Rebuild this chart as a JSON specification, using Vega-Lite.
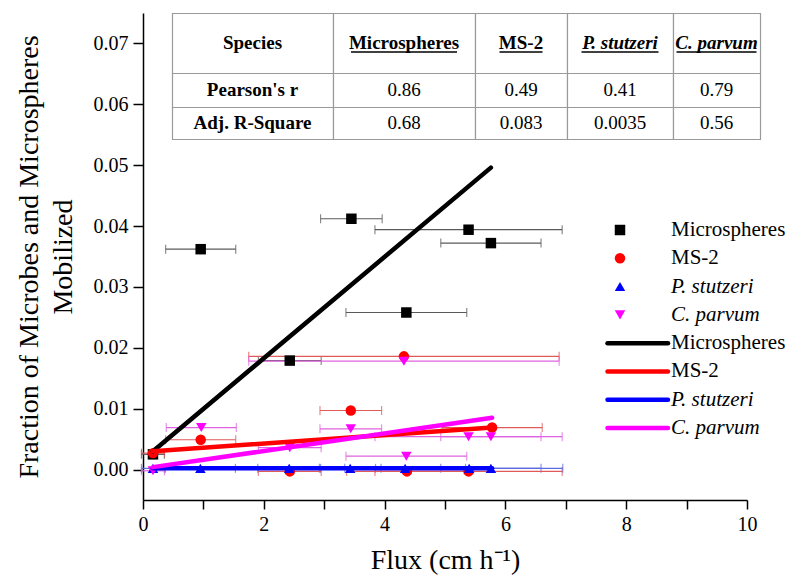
{
  "$schema": "https://vega.github.io/schema/vega-lite/v6.json",
  "width": 604,
  "height": 487,
  "autosize": {"type": "none"},
  "padding": {"left": 143, "top": 13, "right": 54, "bottom": 84},
  "background": "white",
  "config": {
    "font": "Liberation Serif",
    "text": {"font": "Liberation Serif"},
    "view": {"stroke": null},
    "axis": {
      "domainColor": "black",
      "domainWidth": 1.5,
      "tickColor": "black",
      "tickWidth": 1.5,
      "labelColor": "black",
      "titleColor": "black",
      "labelFont": "Liberation Serif",
      "titleFont": "Liberation Serif",
      "titleFontWeight": "normal",
      "grid": false
    }
  },
  "datasets": {
    "obs": [
      {"species": "Microspheres", "flux": 0.165, "frac": 0.0025, "err": 0.19},
      {"species": "Microspheres", "flux": 0.955, "frac": 0.0362, "err": 0.58},
      {"species": "Microspheres", "flux": 2.43, "frac": 0.0179, "err": 0.52},
      {"species": "Microspheres", "flux": 3.45, "frac": 0.0412, "err": 0.51},
      {"species": "Microspheres", "flux": 4.36, "frac": 0.0258, "err": 1.0},
      {"species": "Microspheres", "flux": 5.39, "frac": 0.0394, "err": 1.55},
      {"species": "Microspheres", "flux": 5.76, "frac": 0.0372, "err": 0.83},
      {"species": "MS-2", "flux": 0.165, "frac": 0.0027, "err": 0.19},
      {"species": "MS-2", "flux": 0.955, "frac": 0.0049, "err": 0.58},
      {"species": "MS-2", "flux": 2.43, "frac": -0.0003, "err": 0.52},
      {"species": "MS-2", "flux": 3.44, "frac": 0.0097, "err": 0.51},
      {"species": "MS-2", "flux": 4.32, "frac": 0.0186, "err": 2.57},
      {"species": "MS-2", "flux": 4.37, "frac": -0.0003, "err": 1.0},
      {"species": "MS-2", "flux": 5.39, "frac": -0.0003, "err": 1.55},
      {"species": "MS-2", "flux": 5.78, "frac": 0.0069, "err": 0.83},
      {"species": "P. stutzeri", "flux": 0.165, "frac": 0.0002, "err": 0.19},
      {"species": "P. stutzeri", "flux": 0.95, "frac": 0.0002, "err": 0.58},
      {"species": "P. stutzeri", "flux": 2.42, "frac": 0.0002, "err": 0.52},
      {"species": "P. stutzeri", "flux": 3.43, "frac": 0.0002, "err": 0.51},
      {"species": "P. stutzeri", "flux": 4.34, "frac": 0.0002, "err": 1.0},
      {"species": "P. stutzeri", "flux": 5.4, "frac": 0.0002, "err": 1.55},
      {"species": "P. stutzeri", "flux": 5.76, "frac": 0.0002, "err": 0.83},
      {"species": "C. parvum", "flux": 0.165, "frac": -0.0002, "err": 0.19},
      {"species": "C. parvum", "flux": 0.965, "frac": 0.0069, "err": 0.58},
      {"species": "C. parvum", "flux": 2.43, "frac": 0.0036, "err": 0.52},
      {"species": "C. parvum", "flux": 3.44, "frac": 0.0067, "err": 0.51},
      {"species": "C. parvum", "flux": 4.32, "frac": 0.0178, "err": 2.57},
      {"species": "C. parvum", "flux": 4.36, "frac": 0.0022, "err": 1.0},
      {"species": "C. parvum", "flux": 5.39, "frac": 0.0054, "err": 1.55},
      {"species": "C. parvum", "flux": 5.76, "frac": 0.0054, "err": 0.83}
    ],
    "fit": [
      {"species": "Microspheres", "flux": 0.165, "frac": 0.003},
      {"species": "Microspheres", "flux": 5.76, "frac": 0.0496},
      {"species": "MS-2", "flux": 0.165, "frac": 0.003},
      {"species": "MS-2", "flux": 5.78, "frac": 0.0069},
      {"species": "P. stutzeri", "flux": 0.165, "frac": 0.0002},
      {"species": "P. stutzeri", "flux": 5.78, "frac": 0.0002},
      {"species": "C. parvum", "flux": 0.165, "frac": 0.0004},
      {"species": "C. parvum", "flux": 5.78, "frac": 0.0085}
    ],
    "stats": [
      {"r": 1, "c": 1, "text": "Species"},
      {"r": 1, "c": 2, "text": "Microspheres"},
      {"r": 1, "c": 3, "text": "MS-2"},
      {"r": 1, "c": 4, "text": "P. stutzeri"},
      {"r": 1, "c": 5, "text": "C. parvum"},
      {"r": 2, "c": 1, "text": "Pearson's r"},
      {"r": 2, "c": 2, "text": "0.86"},
      {"r": 2, "c": 3, "text": "0.49"},
      {"r": 2, "c": 4, "text": "0.41"},
      {"r": 2, "c": 5, "text": "0.79"},
      {"r": 3, "c": 1, "text": "Adj. R-Square"},
      {"r": 3, "c": 2, "text": "0.68"},
      {"r": 3, "c": 3, "text": "0.083"},
      {"r": 3, "c": 4, "text": "0.0035"},
      {"r": 3, "c": 5, "text": "0.56"}
    ],
    "key": [
      {"i": 1, "species": "Microspheres", "kind": "point"},
      {"i": 2, "species": "MS-2", "kind": "point"},
      {"i": 3, "species": "P. stutzeri", "kind": "point"},
      {"i": 4, "species": "C. parvum", "kind": "point"},
      {"i": 5, "species": "Microspheres", "kind": "line"},
      {"i": 6, "species": "MS-2", "kind": "line"},
      {"i": 7, "species": "P. stutzeri", "kind": "line"},
      {"i": 8, "species": "C. parvum", "kind": "line"}
    ]
  },
  "layer": [
    {
      "layer": [
        {
          "data": {"name": "obs"},
          "mark": {"type": "errorbar", "ticks": {"size": 9, "thickness": 1.2}, "thickness": 1.2},
          "encoding": {
            "x": {
              "field": "flux", "type": "quantitative",
              "scale": {"domain": [0, 10], "nice": false, "zero": false},
              "axis": {
                "title": "Flux (cm h⁻¹)",
                "titleFontSize": 28,
                "titlePadding": 12,
                "labelFontSize": 20,
                "labelPadding": 5,
                "tickSize": 9,
                "values": [0, 1, 2, 3, 4, 5, 6, 7, 8, 9, 10],
                "labelExpr": "datum.value % 2 === 0 ? datum.label : ''",
                "format": "d",
                "labelFlush": false
              }
            },
            "xError": {"field": "err"},
            "y": {
              "field": "frac", "type": "quantitative",
              "scale": {"domain": [-0.005, 0.075], "nice": false, "zero": false},
              "axis": {
                "title": ["Fraction of Microbes and Microspheres", "Mobilized"],
                "titleFontSize": 28,
                "titleLineHeight": 34,
                "titlePadding": 16,
                "labelFontSize": 20,
                "labelPadding": 5,
                "tickSize": 10,
                "values": [0, 0.01, 0.02, 0.03, 0.04, 0.05, 0.06, 0.07],
                "format": ".2f",
                "labelFlush": false
              }
            },
            "color": {
              "field": "species", "type": "nominal",
              "scale": {"domain": ["Microspheres", "MS-2", "P. stutzeri", "C. parvum"], "range": ["#5a5a5a", "#e05a5a", "#5a6ae0", "#e062e0"]},
              "legend": null
            }
          }
        },
        {
          "data": {"name": "obs"},
          "mark": {"type": "point", "filled": true, "size": 110, "opacity": 1},
          "encoding": {
            "x": {"field": "flux", "type": "quantitative"},
            "y": {"field": "frac", "type": "quantitative"},
            "fill": {
              "field": "species", "type": "nominal",
              "scale": {"domain": ["Microspheres", "MS-2", "P. stutzeri", "C. parvum"], "range": ["black", "red", "blue", "magenta"]},
              "legend": null
            },
            "shape": {
              "field": "species", "type": "nominal",
              "scale": {"domain": ["Microspheres", "MS-2", "P. stutzeri", "C. parvum"], "range": ["square", "circle", "triangle-up", "triangle-down"]},
              "legend": null
            }
          }
        },
        {
          "data": {"name": "fit"},
          "mark": {"type": "line", "strokeWidth": 4.5, "strokeCap": "round"},
          "encoding": {
            "x": {"field": "flux", "type": "quantitative"},
            "y": {"field": "frac", "type": "quantitative"},
            "stroke": {
              "field": "species", "type": "nominal",
              "scale": {"domain": ["Microspheres", "MS-2", "P. stutzeri", "C. parvum"], "range": ["black", "red", "blue", "magenta"]},
              "legend": null
            }
          }
        }
      ]
    },
    {
      "data": {"name": "stats"},
      "layer": [
        {
          "mark": {"type": "rect", "fill": "white", "stroke": "#9a9a9a", "strokeWidth": 1.2},
          "encoding": {
            "x": {
              "field": "c", "type": "quantitative",
              "bin": {"step": 1, "extent": [0.5, 5.5], "nice": false},
              "scale": {"domain": [0.5, 1.5, 2.5, 3.5, 4.5, 5.5], "range": [29, 190, 332, 424, 530, 617], "nice": false, "zero": false},
              "axis": null
            },
            "y": {
              "field": "r", "type": "quantitative",
              "bin": {"step": 1, "extent": [0.5, 3.5], "nice": false},
              "scale": {"domain": [0.5, 1.5, 2.5, 3.5], "range": [0, 60, 94, 126], "nice": false, "zero": false},
              "axis": null
            }
          }
        },
        {
          "transform": [{"filter": "datum.c === 1 || (datum.r === 1 && datum.c <= 3)"}],
          "mark": {"type": "text", "font": "Liberation Serif", "fontWeight": "bold", "fontSize": 19, "color": "black", "baseline": "middle"},
          "encoding": {
            "x": {"field": "c", "type": "quantitative"},
            "y": {"field": "r", "type": "quantitative"},
            "text": {"field": "text"}
          }
        },
        {
          "transform": [{"filter": "datum.r === 1 && datum.c >= 4"}],
          "mark": {"type": "text", "font": "Liberation Serif", "fontWeight": "bold", "fontStyle": "italic", "fontSize": 19, "color": "black", "baseline": "middle"},
          "encoding": {
            "x": {"field": "c", "type": "quantitative"},
            "y": {"field": "r", "type": "quantitative"},
            "text": {"field": "text"}
          }
        },
        {
          "transform": [{"filter": "datum.r > 1 && datum.c > 1"}],
          "mark": {"type": "text", "font": "Liberation Serif", "fontSize": 19, "color": "black", "baseline": "middle"},
          "encoding": {
            "x": {"field": "c", "type": "quantitative"},
            "y": {"field": "r", "type": "quantitative"},
            "text": {"field": "text"}
          }
        },
        {
          "transform": [{"filter": "datum.r === 1 && datum.c > 1"}],
          "mark": {"type": "tick", "orient": "horizontal", "thickness": 1.5, "color": "black", "yOffset": 9, "opacity": 1},
          "encoding": {
            "x": {"field": "c", "type": "quantitative"},
            "y": {"field": "r", "type": "quantitative"},
            "size": {
              "field": "c", "type": "ordinal",
              "scale": {"type": "ordinal", "domain": [2, 3, 4, 5], "range": [106, 43, 77, 80]},
              "legend": null
            }
          }
        }
      ]
    },
    {
      "data": {"name": "key"},
      "layer": [
        {
          "transform": [{"filter": "datum.kind === 'point'"}],
          "mark": {"type": "point", "filled": true, "size": 110, "opacity": 1, "xOffset": -16.5},
          "encoding": {
            "x": {
              "datum": "symbol", "type": "nominal",
              "scale": {"type": "band", "domain": ["symbol", "label"], "range": [462, 588], "paddingInner": 0, "paddingOuter": 0},
              "axis": null
            },
            "y": {
              "field": "i", "type": "quantitative",
              "scale": {"domain": [1, 8], "range": [217, 415], "nice": false, "zero": false},
              "axis": null
            },
            "fill": {"field": "species", "type": "nominal", "legend": null},
            "shape": {"field": "species", "type": "nominal", "legend": null}
          }
        },
        {
          "transform": [{"filter": "datum.kind === 'line'"}],
          "mark": {"type": "rule", "strokeWidth": 4.5, "strokeCap": "round"},
          "encoding": {
            "x": {"datum": "symbol", "type": "nominal", "bandPosition": 0.04},
            "x2": {"datum": "label", "bandPosition": 0},
            "y": {"field": "i", "type": "quantitative"},
            "stroke": {"field": "species", "type": "nominal", "legend": null}
          }
        },
        {
          "transform": [{"filter": "datum.species === 'Microspheres' || datum.species === 'MS-2'"}],
          "mark": {"type": "text", "font": "Liberation Serif", "fontSize": 21, "color": "black", "align": "left", "baseline": "middle", "dx": 3},
          "encoding": {
            "x": {"datum": "label", "type": "nominal", "bandPosition": 0},
            "y": {"field": "i", "type": "quantitative"},
            "text": {"field": "species"}
          }
        },
        {
          "transform": [{"filter": "datum.species === 'P. stutzeri' || datum.species === 'C. parvum'"}],
          "mark": {"type": "text", "font": "Liberation Serif", "fontSize": 21, "fontStyle": "italic", "color": "black", "align": "left", "baseline": "middle", "dx": 3},
          "encoding": {
            "x": {"datum": "label", "type": "nominal", "bandPosition": 0},
            "y": {"field": "i", "type": "quantitative"},
            "text": {"field": "species"}
          }
        }
      ]
    }
  ],
  "resolve": {"scale": {"x": "independent", "y": "independent"}}
}
